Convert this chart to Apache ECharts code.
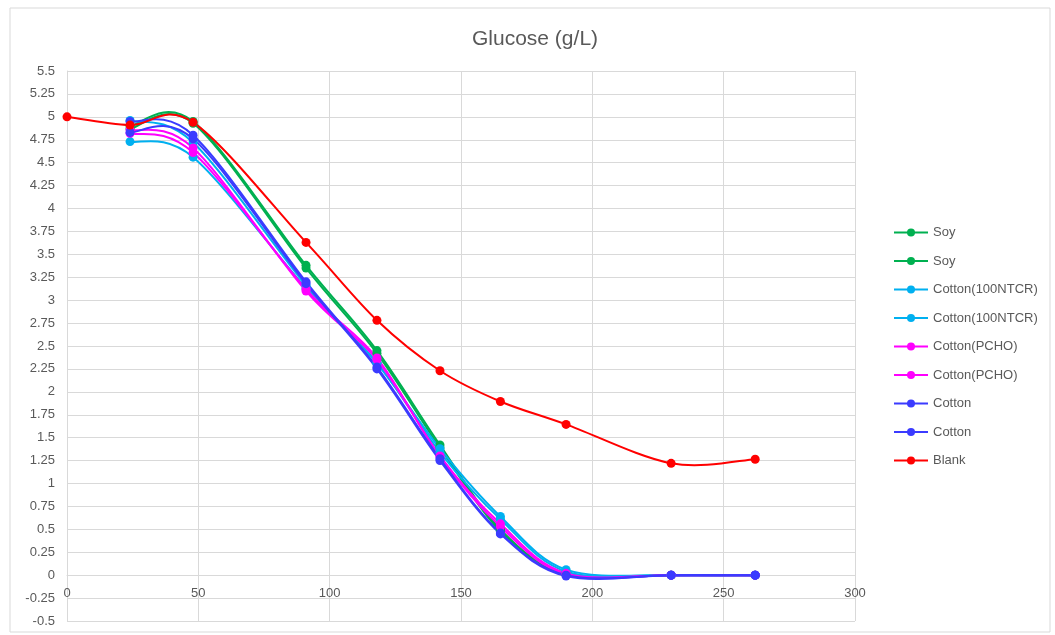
<!DOCTYPE html>
<html><head><meta charset="utf-8">
<script src="https://cdn.jsdelivr.net/npm/echarts@6/dist/echarts.min.js"></script>
<style>html,body{margin:0;padding:0;background:#fff}#c{width:1055px;height:635px}</style>
</head><body><div id="c"></div>
<script>
var title = 'Glucose (g/L)';
var xBlank = [0, 24, 48, 91, 118, 142, 165, 190, 230, 262];
var xSamples = [24, 48, 91, 118, 142, 165, 190, 230, 262];
var names = ['Soy','Soy','Cotton(100NTCR)','Cotton(100NTCR)','Cotton(PCHO)','Cotton(PCHO)','Cotton','Cotton','Blank'];
var colors = ['#00B050','#00B050','#00B0F0','#00B0F0','#FF00FF','#FF00FF','#3B3BFF','#3B3BFF','#FF0000'];
var soy1   = [4.90, 4.95, 3.38, 2.45, 1.42, 0.50, 0.02, 0.00, 0.00];
var soy2   = [4.87, 4.93, 3.35, 2.42, 1.39, 0.48, 0.01, 0.00, 0.00];
var ntcr1  = [4.96, 4.72, 3.16, 2.31, 1.38, 0.64, 0.06, 0.00, 0.00];
var ntcr2  = [4.73, 4.56, 3.13, 2.32, 1.34, 0.61, 0.04, 0.00, 0.00];
var pcho1  = [4.86, 4.66, 3.10, 2.35, 1.30, 0.56, 0.02, 0.00, 0.00];
var pcho2  = [4.82, 4.61, 3.12, 2.37, 1.29, 0.53, 0.01, 0.00, 0.00];
var cot1   = [4.95, 4.80, 3.20, 2.27, 1.27, 0.46, 0.00, 0.00, 0.00];
var cot2   = [4.83, 4.76, 3.18, 2.25, 1.25, 0.45, -0.01, 0.00, 0.00];
var blank  = [5.00, 4.91, 4.94, 3.63, 2.78, 2.23, 1.895, 1.645, 1.22, 1.265];
var yTicks = {min: -0.5, max: 5.5, interval: 0.25};
var xTicks = {min: 0, max: 300, interval: 50};

function pairs(xs, ys){ return xs.map(function(x,i){ return [x, ys[i]]; }); }

// Excel-like smoothed curve (Catmull-Rom -> Bezier) drawn through the axis scales
function curveSeries(xs, ys, color){
  return {type:'custom', name:'_curve', silent:true, z:2,
    data:[[xs[0], ys[0]]],
    renderItem:function(params, api){
      var pts = xs.map(function(x,i){ return api.coord([x, ys[i]]); });
      var children = [];
      for (var i = 0; i < pts.length - 1; i++){
        var p0 = pts[i-1] || pts[i], p1 = pts[i], p2 = pts[i+1], p3 = pts[i+2] || pts[i+1];
        children.push({type:'bezierCurve', shape:{
          x1:p1[0], y1:p1[1], x2:p2[0], y2:p2[1],
          cpx1:p1[0] + (p2[0]-p0[0])/6, cpy1:p1[1] + (p2[1]-p0[1])/6,
          cpx2:p2[0] - (p3[0]-p1[0])/6, cpy2:p2[1] - (p3[1]-p1[1])/6},
          style:{stroke:color, lineWidth:2, fill:null, lineCap:'round', lineJoin:'round'}});
      }
      return {type:'group', children:children};
    }};
}
function markSeries(idx, xs, ys){
  return {name:'k'+idx, type:'line', data:pairs(xs, ys), z:3,
    symbol:'circle', symbolSize:9, showSymbol:true,
    lineStyle:{width:2, color:colors[idx], opacity:0}, itemStyle:{color:colors[idx]}};
}

var allData = [soy1, soy2, ntcr1, ntcr2, pcho1, pcho2, cot1, cot2];
var series = [];
allData.forEach(function(d, i){
  series.push(curveSeries(xSamples, d, colors[i]));
  series.push(markSeries(i, xSamples, d));
});
series.push(curveSeries(xBlank, blank, colors[8]));
series.push(markSeries(8, xBlank, blank));

var font = 'Liberation Sans, Arial, sans-serif';
var chart = echarts.init(document.getElementById('c'), null, {renderer:'canvas'});
chart.setOption({
  animation:false,
  backgroundColor:'#fff',
  graphic:[{type:'rect', shape:{x:10, y:8, width:1040, height:624}, style:{fill:'none', stroke:'#d9d9d9', lineWidth:1}, silent:true}],
  title:{text:title, left:467, top:24, textStyle:{fontFamily:font, fontSize:21, fontWeight:'normal', color:'#595959'}},
  legend:{orient:'vertical', left:888, top:221, itemWidth:34, itemHeight:10, itemGap:15.5,
    lineStyle:{opacity:1, width:2},
    textStyle:{fontFamily:font, fontSize:13, color:'#595959'},
    formatter:function(n){ return names[+n.slice(1)]; },
    data: names.map(function(n,i){ return {name:'k'+i}; })},
  grid:{left:67, right:200, top:71, bottom:14, containLabel:false},
  xAxis:{type:'value', min:xTicks.min, max:xTicks.max, interval:xTicks.interval,
    offset:-46,
    axisLine:{onZero:false, lineStyle:{color:'#d9d9d9'}}, axisTick:{show:false},
    axisLabel:{fontFamily:font, fontSize:13, color:'#595959', margin:12},
    splitLine:{show:true, lineStyle:{color:'#d9d9d9', width:1}}},
  yAxis:{type:'value', min:yTicks.min, max:yTicks.max, interval:yTicks.interval,
    axisLine:{show:true, onZero:false, lineStyle:{color:'#d9d9d9'}}, axisTick:{show:false},
    axisLabel:{fontFamily:font, fontSize:13, color:'#595959', margin:12},
    splitLine:{show:true, lineStyle:{color:'#d9d9d9', width:1}}},
  series: series
});
</script></body></html>
